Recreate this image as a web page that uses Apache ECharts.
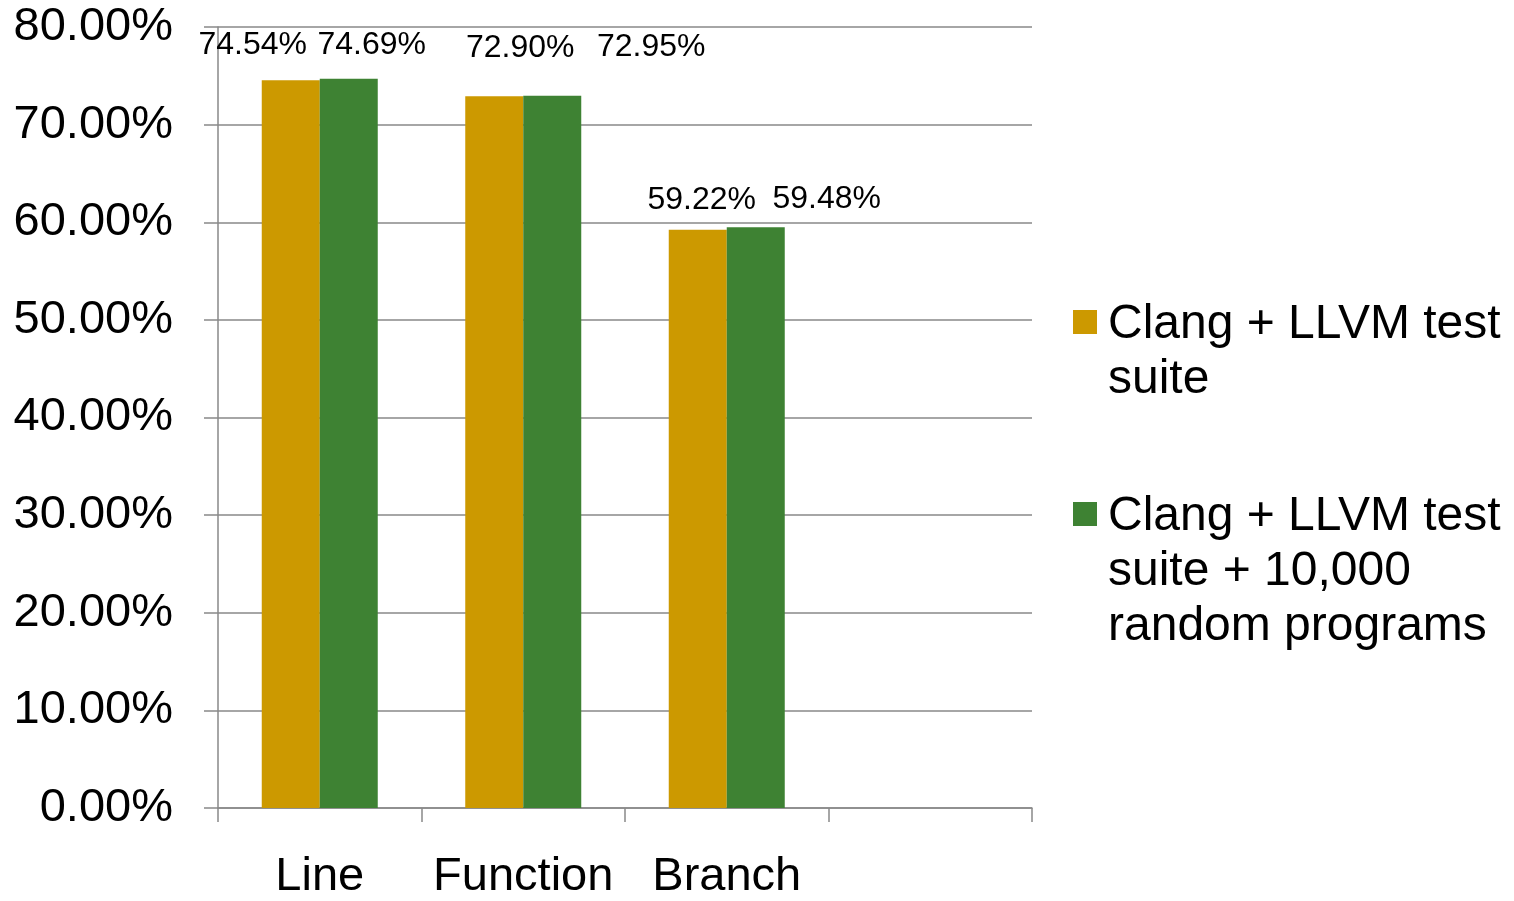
<!DOCTYPE html>
<html>
<head>
<meta charset="utf-8">
<script src="https://cdn.jsdelivr.net/npm/echarts@6/dist/echarts.min.js"></script>
<style>
  html, body { margin: 0; padding: 0; background: #fff; overflow: hidden; }
  #chart { width: 1514px; height: 901px; }
</style>
</head>
<body>
<div id="chart"></div>
<script>
// Coverage categories (the fourth slot is left empty on purpose)
const categories = ['Line', 'Function', 'Branch', ''];
const seriesNames = ['Clang + LLVM test suite', 'Clang + LLVM test suite + 10,000 random programs'];
const legendLines = [['Clang + LLVM test', 'suite'], ['Clang + LLVM test', 'suite + 10,000', 'random programs']];
const testSuite = [74.54, 72.90, 59.22, null];
const withRandom = [74.69, 72.95, 59.48, null];
const yTicks = [0, 10, 20, 30, 40, 50, 60, 70, 80];

const colors = ['#CC9900', '#3E8233'];
const FONT = '"Liberation Sans", Arial, Helvetica, sans-serif';

// Per-label nudges for the value labels above the bars
const labelShift = [
  [[-38, -14], [26, -27], [4, -9]],
  [[23, -13], [99, -28], [71, -7]]
];

function makeSeries(idx, values) {
  return {
    name: seriesNames[idx],
    type: 'bar',
    barWidth: 58,
    barGap: '0%',
    itemStyle: { color: colors[idx] },
    data: values.map((v, i) => ({
      value: v,
      label: labelShift[idx][i] ? { offset: labelShift[idx][i] } : undefined
    })),
    label: {
      show: true,
      position: 'top',
      distance: 5,
      fontFamily: FONT,
      fontSize: 32,
      color: '#000',
      formatter: p => p.value == null ? '' : p.value.toFixed(2) + '%'
    }
  };
}

const chart = echarts.init(document.getElementById('chart'), null, { renderer: 'canvas' });

// Legend drawn as graphic blocks so the swatch aligns with the first text line
const legendGraphics = [];
const swatchTops = [310, 502];
const textTops = [297, 489];
legendLines.forEach((lines, i) => {
  legendGraphics.push({
    type: 'rect',
    left: 1073, top: swatchTops[i],
    shape: { width: 24, height: 24 },
    style: { fill: colors[i] }
  });
  legendGraphics.push({
    type: 'text',
    left: 1108, top: textTops[i],
    style: {
      text: lines.join('\n'),
      font: '48px ' + FONT,
      lineHeight: 55,
      fill: '#000'
    }
  });
});

chart.setOption({
  animation: false,
  backgroundColor: '#fff',
  grid: { left: 218, width: 814, top: 27, height: 784, containLabel: false },
  xAxis: {
    type: 'category',
    data: categories,
    boundaryGap: true,
    axisLine: { show: true, lineStyle: { color: '#898989', width: 1.5 } },
    axisTick: { show: true, interval: 0, length: 14, lineStyle: { color: '#898989', width: 1.5 } },
    axisLabel: { interval: 0, fontFamily: FONT, fontSize: 47, color: '#000', margin: 46 }
  },
  yAxis: {
    type: 'value',
    min: yTicks[0],
    max: yTicks[yTicks.length - 1],
    interval: yTicks[1] - yTicks[0],
    axisLine: { show: true, lineStyle: { color: '#898989', width: 1.5 } },
    axisTick: { show: true, length: 14, lineStyle: { color: '#898989', width: 1.5 } },
    splitLine: { show: true, lineStyle: { color: '#898989', width: 1.5 } },
    axisLabel: {
      fontFamily: FONT, fontSize: 47, color: '#000', margin: 45,
      formatter: v => v.toFixed(2) + '%'
    }
  },
  legend: { show: false },
  graphic: legendGraphics,
  series: [makeSeries(0, testSuite), makeSeries(1, withRandom)]
});
</script>
</body>
</html>
